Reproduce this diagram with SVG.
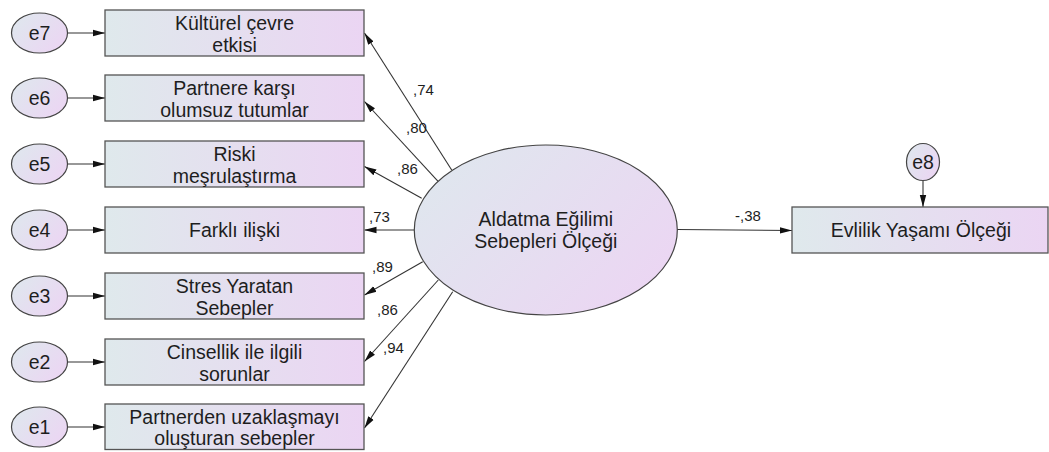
<svg xmlns="http://www.w3.org/2000/svg" width="1049" height="452" viewBox="0 0 1049 452">
<defs>
<linearGradient id="g" x1="0" y1="0" x2="1" y2="0">
<stop offset="0" stop-color="#dfe9ec"/>
<stop offset="1" stop-color="#ebd5f3"/>
</linearGradient>
<linearGradient id="ge" x1="0" y1="0.2" x2="1" y2="0.8">
<stop offset="0" stop-color="#dfe7ee"/>
<stop offset="1" stop-color="#ecd5f3"/>
</linearGradient>
<marker id="ah" viewBox="0 0 12 8" refX="12" refY="4" markerWidth="12" markerHeight="8" markerUnits="userSpaceOnUse" orient="auto">
<path d="M0,0.8 L12,4 L0,7.2 Z" fill="#111"/>
</marker>
<style>
.box{fill:url(#g);stroke:#555;stroke-width:1.3}
.ell{fill:url(#ge);stroke:#444;stroke-width:1.2}
.t{font-family:"Liberation Sans",Arial,sans-serif;font-size:19.5px;fill:#1e1e1e;text-anchor:middle}
.c{font-family:"Liberation Sans",Arial,sans-serif;font-size:15px;fill:#1e1e1e}
.ln{stroke:#333;stroke-width:1.1;fill:none;marker-end:url(#ah)}
</style>
</defs>
<rect width="1049" height="452" fill="#ffffff"/>

<g id="connectors">
<line class="ln" x1="67.5" y1="33" x2="105" y2="33"/>
<line class="ln" x1="67.5" y1="98" x2="105" y2="98"/>
<line class="ln" x1="67.5" y1="164" x2="105" y2="164"/>
<line class="ln" x1="67.5" y1="230" x2="105" y2="230"/>
<line class="ln" x1="67.5" y1="296" x2="105" y2="296"/>
<line class="ln" x1="67.5" y1="362" x2="105" y2="362"/>
<line class="ln" x1="67.5" y1="427" x2="105" y2="427"/>
<line class="ln" x1="451.7" y1="170" x2="364.5" y2="33"/>
<line class="ln" x1="438.3" y1="181.7" x2="364.5" y2="101.5"/>
<line class="ln" x1="421.7" y1="198.3" x2="364.5" y2="166.5"/>
<line class="ln" x1="414.5" y1="230" x2="364.5" y2="230"/>
<line class="ln" x1="422.7" y1="261.7" x2="364.5" y2="295"/>
<line class="ln" x1="438.3" y1="280" x2="364.5" y2="361.5"/>
<line class="ln" x1="452.7" y1="291.7" x2="364.5" y2="428"/>
<line class="ln" x1="677" y1="229.5" x2="792" y2="230.5"/>
<line class="ln" x1="923" y1="180.5" x2="923" y2="207"/>
<text class="c" x="413" y="95">,74</text>
<text class="c" x="406" y="133">,80</text>
<text class="c" x="397" y="174">,86</text>
<text class="c" x="369" y="222">,73</text>
<text class="c" x="372" y="272">,89</text>
<text class="c" x="377" y="315">,86</text>
<text class="c" x="383" y="353">,94</text>
<text class="c" x="735" y="221">-,38</text>
</g>

<g id="e7"><ellipse class="ell" cx="39.5" cy="33" rx="28" ry="20"/><text class="t" x="39.5" y="40">e7</text></g>
<g id="e6"><ellipse class="ell" cx="39.5" cy="98" rx="28" ry="20"/><text class="t" x="39.5" y="105">e6</text></g>
<g id="e5"><ellipse class="ell" cx="39.5" cy="164" rx="28" ry="20"/><text class="t" x="39.5" y="171">e5</text></g>
<g id="e4"><ellipse class="ell" cx="39.5" cy="230" rx="28" ry="20"/><text class="t" x="39.5" y="237">e4</text></g>
<g id="e3"><ellipse class="ell" cx="39.5" cy="296" rx="28" ry="20"/><text class="t" x="39.5" y="303">e3</text></g>
<g id="e2"><ellipse class="ell" cx="39.5" cy="362" rx="28" ry="20"/><text class="t" x="39.5" y="369">e2</text></g>
<g id="e1"><ellipse class="ell" cx="39.5" cy="427" rx="28" ry="20"/><text class="t" x="39.5" y="434">e1</text></g>

<g id="kulturel"><rect class="box" x="105" y="10" width="259" height="46"/><text class="t" x="234.5" y="30">Kültürel çevre</text><text class="t" x="234.5" y="51.5">etkisi</text></g>
<g id="partnere"><rect class="box" x="105" y="75" width="259" height="46"/><text class="t" x="234.5" y="95">Partnere karşı</text><text class="t" x="234.5" y="117">olumsuz tutumlar</text></g>
<g id="riski"><rect class="box" x="105" y="141" width="259" height="46"/><text class="t" x="234.5" y="161">Riski</text><text class="t" x="234.5" y="182.5">meşrulaştırma</text></g>
<g id="farkli"><rect class="box" x="105" y="207" width="259" height="46"/><text class="t" x="234.5" y="237">Farklı ilişki</text></g>
<g id="stres"><rect class="box" x="105" y="273" width="259" height="46"/><text class="t" x="234.5" y="293">Stres Yaratan</text><text class="t" x="234.5" y="314.5">Sebepler</text></g>
<g id="cinsellik"><rect class="box" x="105" y="339" width="259" height="46"/><text class="t" x="234.5" y="359">Cinsellik ile ilgili</text><text class="t" x="234.5" y="380.5">sorunlar</text></g>
<g id="partnerden"><rect class="box" x="105" y="404" width="259" height="45.5"/><text class="t" x="234.5" y="423.5">Partnerden uzaklaşmayı</text><text class="t" x="234.5" y="445">oluşturan sebepler</text></g>

<g id="aldatma"><ellipse class="ell" cx="545.8" cy="230" rx="131.5" ry="85"/><text class="t" x="545.8" y="226">Aldatma Eğilimi</text><text class="t" x="545.8" y="248">Sebepleri Ölçeği</text></g>

<g id="evlilik"><rect class="box" x="792" y="207" width="256" height="46"/><text class="t" x="921" y="237">Evlilik Yaşamı Ölçeği</text></g>
<g id="e8"><ellipse class="ell" cx="923" cy="162" rx="16.5" ry="18.5"/><text class="t" x="923" y="169">e8</text></g>
</svg>
